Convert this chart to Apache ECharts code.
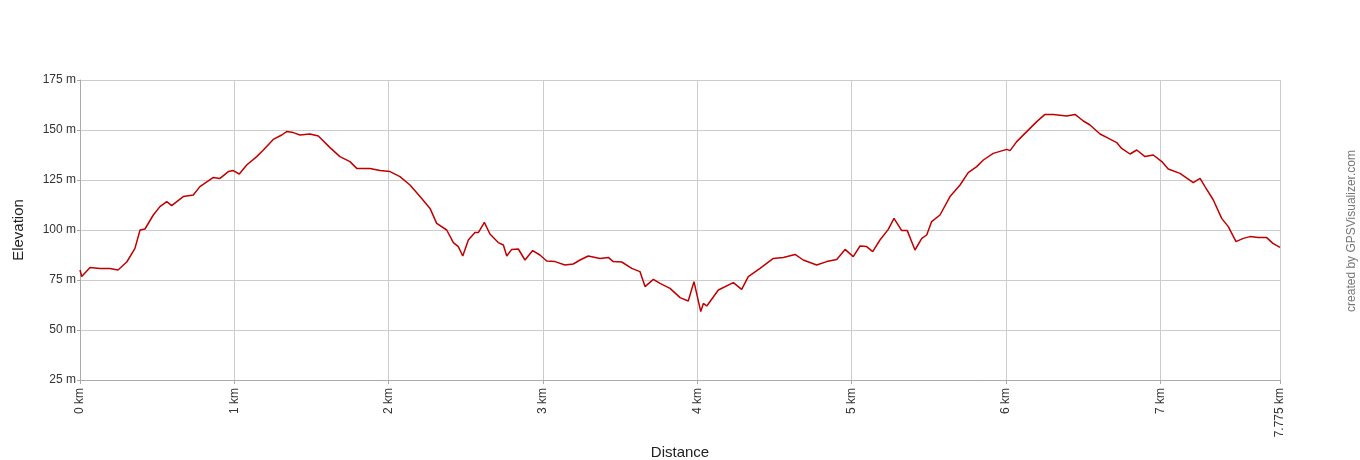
<!DOCTYPE html>
<html>
<head>
<meta charset="utf-8">
<script src="https://cdn.jsdelivr.net/npm/echarts@6/dist/echarts.min.js"></script>
<style>
html,body{margin:0;padding:0;background:#fff;}
#chart{width:1360px;height:460px;}
</style>
</head>
<body>
<div id="chart"></div>
<script>
// Distance along track (km)
const distanceKm = [0,0.011,0.065,0.130,0.194,0.246,0.303,0.356,0.389,0.421,0.475,0.518,0.562,0.594,0.669,0.734,0.777,0.864,0.907,0.961,0.993,1.032,1.080,1.145,1.188,1.252,1.307,1.339,1.382,1.425,1.490,1.544,1.620,1.684,1.749,1.793,1.879,1.944,2.009,2.073,2.138,2.203,2.268,2.311,2.376,2.419,2.451,2.480,2.516,2.559,2.581,2.620,2.656,2.710,2.743,2.765,2.797,2.840,2.883,2.933,2.980,3.024,3.078,3.142,3.196,3.240,3.293,3.369,3.423,3.455,3.510,3.575,3.628,3.661,3.715,3.758,3.823,3.888,3.941,3.978,4.000,4.022,4.039,4.061,4.136,4.233,4.287,4.330,4.406,4.492,4.557,4.633,4.686,4.773,4.838,4.903,4.957,5.010,5.054,5.097,5.136,5.183,5.237,5.274,5.324,5.360,5.410,5.454,5.486,5.518,5.572,5.637,5.702,5.755,5.810,5.853,5.917,6.004,6.026,6.069,6.134,6.199,6.252,6.306,6.393,6.447,6.501,6.544,6.609,6.652,6.717,6.749,6.803,6.847,6.900,6.954,7.009,7.051,7.127,7.213,7.257,7.289,7.343,7.397,7.440,7.490,7.537,7.581,7.634,7.689,7.729,7.775];
// Elevation (m)
const elevationM = [80,76.7,81.3,80.8,80.8,80,84,90.8,100,100.5,107.5,111.7,114.2,112.2,116.7,117.5,121.7,126.3,125.8,129.2,129.7,128,132.5,136.7,140,145.3,147.5,149.2,148.7,147.5,148,147,141.2,136.7,134.2,130.8,130.8,129.7,129.2,126.7,122.5,116.7,110.8,103.3,100,93.7,91.7,87,95,98.7,98.7,103.8,98,93.7,92.5,87,90.3,90.5,85,89.7,87.5,84.5,84.2,82.5,83,85,87,85.8,86.3,84.2,84,80.8,79.2,71.7,75.3,73.3,70.8,66.2,64.5,74.2,66.7,59.2,63.3,62,70,73.7,70.3,76.7,80.8,85.8,86.3,87.8,85,82.5,84.2,85.3,90.3,86.7,92,91.7,89.2,95,100.3,105.8,99.7,99.7,90,95.8,97.5,104.2,107.5,116.7,122.5,128.7,131.7,135,138.3,140.3,139.7,144.2,149.2,154.2,157.8,157.8,157,157.8,154.5,152.5,148,146.3,143.7,140.8,138,140,136.7,137.5,134.2,130.5,128.3,123.7,125.8,121.7,115,105.8,101.7,94.2,95.8,96.7,96.2,96.2,93.3,91.3];
// Axis settings
const xMax = 7.775;
const yTicks = [25,50,75,100,125,150,175];

const chart = echarts.init(document.getElementById('chart'), null, {renderer:'canvas'});
const font = 'Arial, "Liberation Sans", sans-serif';
chart.setOption({
  animation:false,
  backgroundColor:'#ffffff',
  grid:{left:80,right:80,top:80,bottom:80,containLabel:false,outerBoundsMode:'none',show:false},
  xAxis:{
    type:'value', min:0, max:xMax, interval:1,
    name:'Distance', nameLocation:'middle', nameGap:62,
    nameTextStyle:{fontFamily:font,fontSize:15,color:'#222'},
    axisLine:{show:true,lineStyle:{color:'#aaaaaa',width:1}},
    axisTick:{show:true,length:4,lineStyle:{color:'#aaaaaa'}},
    splitLine:{show:true,lineStyle:{color:'#cccccc',width:1}},
    axisLabel:{rotate:90,fontFamily:font,fontSize:12,color:'#333',margin:8,
      showMaxLabel:true,showMinLabel:true,
      formatter:v=>(Math.abs(v-xMax)<1e-6?'7.775':String(Math.round(v)))+' km'}
  },
  yAxis:{
    type:'value', min:yTicks[0], max:yTicks[yTicks.length-1], interval:25,
    name:'Elevation', nameLocation:'middle', nameGap:54,
    nameTextStyle:{fontFamily:font,fontSize:15,color:'#222'},
    axisLine:{show:true,lineStyle:{color:'#aaaaaa',width:1}},
    axisTick:{show:true,length:3,lineStyle:{color:'#aaaaaa'}},
    splitLine:{show:true,lineStyle:{color:'#cccccc',width:1}},
    axisLabel:{fontFamily:font,fontSize:12,color:'#333',margin:4,formatter:v=>v+' m'}
  },
  graphic:[
    {type:'text',x:1352,y:231,rotation:Math.PI/2,
     style:{text:'created by GPSVisualizer.com',fill:'#777',font:'12px Arial, "Liberation Sans", sans-serif',align:'center',verticalAlign:'middle'}}
  ],
  series:[{
    type:'line',
    data:distanceKm.map((d,i)=>[d,elevationM[i]]),
    showSymbol:false,
    lineStyle:{color:'#c00000',width:1.5},
    smooth:false
  }]
});
</script>
</body>
</html>
